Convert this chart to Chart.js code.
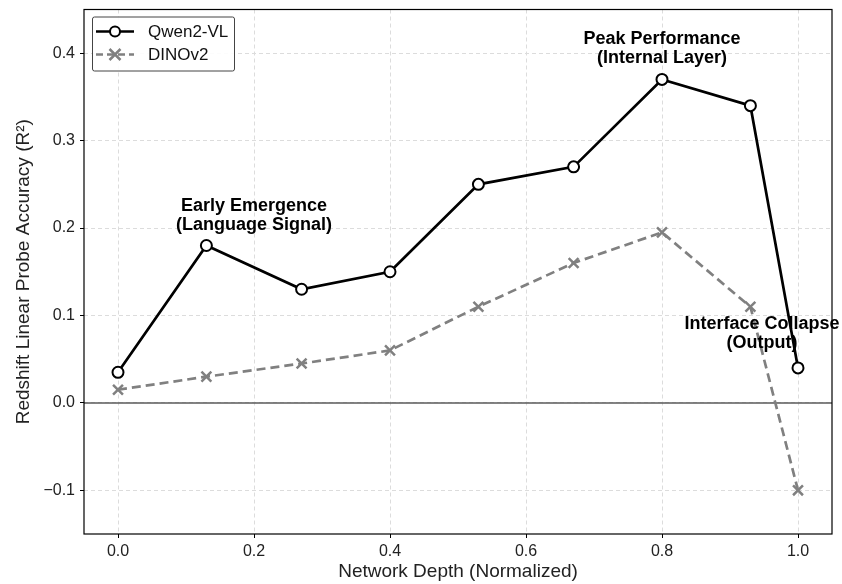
<!DOCTYPE html>
<html>
<head>
<meta charset="utf-8">
<script src="https://cdn.jsdelivr.net/npm/chart.js@4.4.0/dist/chart.umd.min.js"></script>
<style>
  html, body { margin: 0; padding: 0; background: #fff; }
  canvas { display: block; }
</style>
</head>
<body>
<canvas id="c" width="842" height="584"></canvas>
<script>
// Layer depth (normalized) and linear-probe R² per model
const depth  = [0.0, 0.13, 0.27, 0.40, 0.53, 0.67, 0.80, 0.93, 1.0];
const qwenR2 = [0.035, 0.18, 0.13, 0.15, 0.25, 0.27, 0.37, 0.34, 0.04];
const dinoR2 = [0.015, 0.03, 0.045, 0.06, 0.11, 0.16, 0.195, 0.11, -0.10];

const seriesNames = ['Qwen2-VL', 'DINOv2'];
const xTicks = [0.0, 0.2, 0.4, 0.6, 0.8, 1.0];
const yTicks = [-0.1, 0.0, 0.1, 0.2, 0.3, 0.4];

// Callout text anchored in data coordinates (x, y of first line)
const noteX = [0.20, 0.80, 0.947];
const noteY = [0.225, 0.416, 0.09];
const noteText = [
  ['Early Emergence', '(Language Signal)'],
  ['Peak Performance', '(Internal Layer)'],
  ['Interface Collapse', '(Output)']
];

const FONT = '"Liberation Sans", Arial, Helvetica, sans-serif';
const QWEN_COLOR = '#000000';
const DINO_COLOR = '#808080';

function fmt(v) {
  const s = Math.abs(v).toFixed(1);
  return v < -1e-9 ? '\u2212' + s : s;
}

const toPoints = (ys) => depth.map((x, i) => ({ x, y: ys[i] }));

// Zero reference line under the data
const zeroLine = {
  id: 'zeroLine',
  beforeDatasetsDraw(chart) {
    const { ctx, chartArea: a, scales: { y } } = chart;
    const py = y.getPixelForValue(0);
    ctx.save();
    ctx.strokeStyle = '#5a5a5a';
    ctx.lineWidth = 1.5;
    ctx.beginPath();
    ctx.moveTo(a.left, py);
    ctx.lineTo(a.right, py);
    ctx.stroke();
    ctx.restore();
  }
};

// Bold two-line callouts
const callouts = {
  id: 'callouts',
  afterDatasetsDraw(chart) {
    const { ctx, scales: { x, y } } = chart;
    ctx.save();
    ctx.fillStyle = '#000';
    ctx.font = 'bold 18px ' + FONT;
    ctx.textAlign = 'center';
    ctx.textBaseline = 'middle';
    noteText.forEach((lines, i) => {
      const px = x.getPixelForValue(noteX[i]);
      const py = y.getPixelForValue(noteY[i]);
      lines.forEach((t, k) => ctx.fillText(t, px, py + k * 19));
    });
    ctx.restore();
  }
};

// Full box around the plotting area
const frame = {
  id: 'frame',
  afterDraw(chart) {
    const { ctx, chartArea: a } = chart;
    ctx.save();
    ctx.strokeStyle = '#000';
    ctx.lineWidth = 1.2;
    ctx.strokeRect(a.left, a.top, a.right - a.left, a.bottom - a.top);
    ctx.restore();
  }
};

// Legend with line + marker samples
const lineLegend = {
  id: 'lineLegend',
  afterDraw(chart) {
    const { ctx, chartArea: a } = chart;
    const bx = a.left + 8, by = a.top + 7, bw = 142, bh = 54;
    ctx.save();
    ctx.fillStyle = 'rgba(255,255,255,0.9)';
    ctx.strokeStyle = '#444';
    ctx.lineWidth = 1;
    ctx.beginPath();
    ctx.roundRect(bx + 0.5, by + 0.5, bw, bh, 2);
    ctx.fill();
    ctx.stroke();

    const rows = [
      { name: seriesNames[0], color: QWEN_COLOR, dash: [], marker: 'circle' },
      { name: seriesNames[1], color: DINO_COLOR, dash: [7, 4], marker: 'cross' }
    ];
    rows.forEach((r, i) => {
      const cy = by + 15 + i * 23;
      const x0 = bx + 4, x1 = bx + 42, mx = (x0 + x1) / 2;
      ctx.strokeStyle = r.color;
      ctx.lineWidth = 2.5;
      ctx.setLineDash(r.dash);
      ctx.beginPath();
      ctx.moveTo(x0, cy);
      ctx.lineTo(x1, cy);
      ctx.stroke();
      ctx.setLineDash([]);
      if (r.marker === 'circle') {
        ctx.fillStyle = '#fff';
        ctx.lineWidth = 2;
        ctx.beginPath();
        ctx.arc(mx, cy, 5, 0, Math.PI * 2);
        ctx.fill();
        ctx.stroke();
      } else {
        const s = 5.5;
        ctx.lineWidth = 2.5;
        ctx.beginPath();
        ctx.moveTo(mx - s, cy - s); ctx.lineTo(mx + s, cy + s);
        ctx.moveTo(mx - s, cy + s); ctx.lineTo(mx + s, cy - s);
        ctx.stroke();
      }
      ctx.fillStyle = '#111';
      ctx.font = '17px ' + FONT;
      ctx.textAlign = 'left';
      ctx.textBaseline = 'middle';
      ctx.fillText(r.name, bx + 56, cy + 1);
    });
    ctx.restore();
  }
};

const gridStyle = {
  color: '#dcdcdc',
  lineWidth: 1,
  drawTicks: true,
  tickLength: 4,
  tickColor: '#000',
  tickBorderDash: []
};

new Chart(document.getElementById('c'), {
  type: 'scatter',
  data: {
    datasets: [
      {
        label: seriesNames[0],
        data: toPoints(qwenR2),
        showLine: true,
        borderColor: QWEN_COLOR,
        borderWidth: 2.7,
        pointStyle: 'circle',
        pointRadius: 5.5,
        pointHoverRadius: 5.5,
        pointBackgroundColor: '#ffffff',
        pointBorderColor: QWEN_COLOR,
        pointBorderWidth: 2,
        order: 1
      },
      {
        label: seriesNames[1],
        data: toPoints(dinoR2),
        showLine: true,
        borderColor: DINO_COLOR,
        borderWidth: 2.7,
        borderDash: [9, 5],
        pointStyle: 'crossRot',
        pointRadius: 7,
        pointHoverRadius: 7,
        pointBorderColor: DINO_COLOR,
        pointBorderWidth: 2.5,
        order: 2
      }
    ]
  },
  options: {
    responsive: false,
    animation: false,
    devicePixelRatio: 1,
    layout: { padding: { top: 8, right: 10, left: 0, bottom: 0 } },
    plugins: {
      legend: { display: false },
      tooltip: { enabled: false }
    },
    scales: {
      x: {
        type: 'linear',
        min: -0.05,
        max: 1.05,
        afterBuildTicks: (s) => { s.ticks = xTicks.map(v => ({ value: v })); },
        afterFit: (s) => { s.height = 50; s.paddingLeft = 0; s.paddingRight = 0; },
        border: { display: false, dash: [4, 3] },
        grid: gridStyle,
        ticks: {
          padding: 4,
          color: '#222',
          font: { family: FONT, size: 16 },
          maxRotation: 0,
          callback: (v) => fmt(v)
        },
        title: {
          display: true,
          text: 'Network Depth (Normalized)',
          color: '#222',
          font: { family: FONT, size: 19 },
          padding: { top: 0, bottom: 1 }
        }
      },
      y: {
        type: 'linear',
        min: -0.15,
        max: 0.45,
        afterBuildTicks: (s) => { s.ticks = yTicks.map(v => ({ value: v })); },
        afterFit: (s) => { s.width = 84; s.paddingTop = 0; s.paddingBottom = 0; },
        border: { display: false, dash: [4, 3] },
        grid: gridStyle,
        ticks: {
          padding: 5,
          color: '#222',
          font: { family: FONT, size: 16 },
          callback: (v) => fmt(v)
        },
        title: {
          display: true,
          text: 'Redshift Linear Probe Accuracy (R\u00B2)',
          color: '#222',
          font: { family: FONT, size: 19 },
          padding: { top: 12, bottom: 4 }
        }
      }
    }
  },
  plugins: [zeroLine, callouts, frame, lineLegend]
});
</script>
</body>
</html>
